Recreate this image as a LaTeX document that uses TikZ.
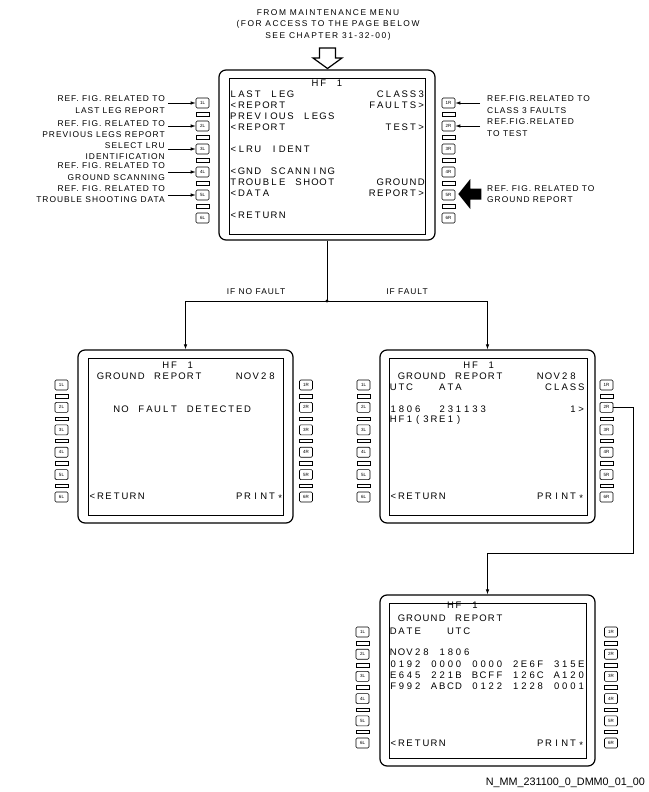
\documentclass[tikz,border=0pt]{standalone}
\usepackage{fontspec}
\setmainfont{Liberation Sans}
\newfontfamily\cdufont{Liberation Sans}
\newfontfamily\lblfont[LetterSpace=12]{Liberation Sans}
\newfontfamily\headfont[LetterSpace=18]{Liberation Sans}
\usetikzlibrary{arrows.meta,calc}

% one character per cell of the 24-column CDU grid
\newlength\cduw
\setlength\cduw{8.17pt}
\makeatletter
\def\cdu#1{\cdu@loop#1\cdu@stop}
\def\cdu@stop{\cdu@stop}
\def\cdu@loop{\futurelet\cdu@next\cdu@check}
\def\cdu@check{%
  \ifx\cdu@next\cdu@stop \let\cdu@do\@gobble
  \else\ifx\cdu@next\@sptoken \let\cdu@do\cdu@space
  \else \let\cdu@do\cdu@char\fi\fi
  \cdu@do}
\def\cdu@char#1{\hbox to\cduw{\hss#1\hss}\cdu@loop}
\expandafter\def\expandafter\cdu@space\space{\hbox to\cduw{}\cdu@loop}
\makeatother
\newcommand\cduast{\raisebox{-2pt}{*}}

% text on a display: origin x, column, row centre y, text
\newcommand\ct[4]{\node[cdutxt] at ({#1+#2*8.17},#3) {\cdu{#4}};}

% column of six line-select keys with separator bars
\newcommand\keycol[5]{%
  \foreach \k in {1,...,6}{\node[softkey] (#1\k#5) at (#2,{#3+(\k-1)*#4}) {\k#5};}
  \foreach \k in {1,...,5}{\node[keysep] (#1s\k#5) at (#2,{#3+(\k-0.5)*#4}) {};}
}

\begin{document}
\begin{tikzpicture}[x=1pt,y=-1pt,
  dispout/.style={draw, line width=1.2pt, rounded corners=7pt, inner sep=0pt},
  dispin/.style={draw, line width=0.9pt, inner sep=0pt},
  cdutxt/.style={font=\cdufont\fontsize{9.5}{11}\selectfont, inner sep=0pt, anchor=west,
                 text height=6.8pt, text depth=0pt},
  softkey/.style={draw, line width=0.6pt, minimum width=13pt, minimum height=10pt,
                  inner sep=0pt, rounded corners=1.2pt, font=\fontsize{4.5}{5}\selectfont},
  keysep/.style={draw, line width=0.6pt, minimum width=13pt, minimum height=3.5pt, inner sep=0pt},
  lbl/.style={font=\lblfont\fontsize{8.4}{11.5}\selectfont, inner sep=0pt},
  conn/.style={line width=0.7pt},
  ptr/.style={line width=0.7pt, -{Latex[length=5pt,width=3.5pt]}}
]
\useasboundingbox (0,0) rectangle (648,792);

% heading and hollow arrow
\node[font=\headfont\fontsize{8.4}{11.5}\selectfont, inner sep=0pt, align=center] (head) at (328,24.5)
  {FROM MAINTENANCE MENU\\(FOR ACCESS TO THE PAGE BELOW\\SEE CHAPTER 31-32-00)};
\draw[line width=1.2pt, fill=white] (319.5,48) -- (335.5,48) -- (335.5,58) -- (342,58)
  -- (327.5,68.5) -- (313,58) -- (319.5,58) -- cycle;

% ---------- HF 1 main page ----------
\node[dispout, minimum width=216pt, minimum height=170pt] (top) at (327,155) {};
\node[dispin, minimum width=196pt, minimum height=156pt] (topin) at (327,156) {};
\keycol{t}{202.5}{103}{23}{L}
\keycol{t}{448.5}{103}{23}{R}
\ct{229}{10}{83}{HF 1}
\ct{229}{0}{94}{LAST LEG}
\ct{229}{18}{94}{CLASS3}
\ct{229}{0}{105}{<REPORT}
\ct{229}{17}{105}{FAULTS>}
\ct{229}{0}{116}{PREVIOUS LEGS}
\ct{229}{0}{127}{<REPORT}
\ct{229}{19}{127}{TEST>}
\ct{229}{0}{149}{<LRU IDENT}
\ct{229}{0}{171.5}{<GND SCANNING}
\ct{229}{0}{182.5}{TROUBLE SHOOT}
\ct{229}{18}{182.5}{GROUND}
\ct{229}{0}{193}{<DATA}
\ct{229}{17}{193}{REPORT>}
\ct{229}{0}{215}{<RETURN}

% key callouts, left side
\node[lbl, align=right, anchor=east] (l1) at (165,104.5) {REF. FIG. RELATED TO\\LAST LEG REPORT};
\node[lbl, align=right, anchor=east] (l2) at (165,129) {REF. FIG. RELATED TO\\PREVIOUS LEGS REPORT};
\node[lbl, align=right, anchor=east] (l3) at (165,151) {SELECT LRU\\IDENTIFICATION};
\node[lbl, align=right, anchor=east] (l4) at (165,171.5) {REF. FIG. RELATED TO\\GROUND SCANNING};
\node[lbl, align=right, anchor=east] (l5) at (165,194) {REF. FIG. RELATED TO\\TROUBLE SHOOTING DATA};
\foreach \i in {1,...,5}{\draw[ptr] ($(l\i.east |- t\i L.west)+(3,0)$) -- (t\i L.west);}

% key callouts, right side
\node[lbl, align=left, anchor=west] (r1) at (487,104.5) {REF.FIG.RELATED TO\\CLASS 3 FAULTS};
\node[lbl, align=left, anchor=west] (r2) at (487,127.5) {REF.FIG.RELATED\\TO TEST};
\node[lbl, align=left, anchor=west] (r5) at (487,194) {REF. FIG. RELATED TO\\GROUND REPORT};
\draw[ptr] ($(r1.west |- t1R.east)+(-7,0)$) -- (t1R.east);
\draw[ptr] ($(r2.west |- t2R.east)+(-7,0)$) -- (t2R.east);
\fill[shift={(t5R.east)}] (3,-1) -- (15,-16) -- (15,-6.5) -- (26,-6.5) -- (26,4.5)
  -- (15,4.5) -- (15,14) -- cycle;

% branch to the ground report pages
\coordinate (split) at (327,301);
\node[dispout, minimum width=215pt, minimum height=173pt] (ml) at (185.5,436.5) {};
\node[dispin, minimum width=195pt, minimum height=157pt] (mlin) at (185.5,436.5) {};
\node[dispout, minimum width=215pt, minimum height=173pt] (mr) at (487.5,436.5) {};
\node[dispin, minimum width=198pt, minimum height=157pt] (mrin) at (488,436.5) {};
\draw[conn] (top.south) -- (split);
\draw[ptr] (split) -| (ml.north);
\draw[ptr] (split) -| (mr.north);
\fill (split) circle (1.6pt);
\node[lbl] (nofault) at (256,292) {IF NO FAULT};
\node[lbl] (fault) at (407,292) {IF FAULT};

% ---------- no fault page ----------
\keycol{a}{61.5}{385}{22.4}{L}
\keycol{a}{306}{385}{22.4}{R}
\ct{88}{9}{365}{HF 1}
\ct{88}{1}{375.9}{GROUND REPORT}
\ct{88}{18}{375.9}{NOV28}
\ct{88}{3}{408.6}{NO FAULT DETECTED}
\ct{88}{0}{495.8}{<RETURN}
\ct{88}{18}{495.8}{PRINT\cduast}

% ---------- fault page ----------
\keycol{b}{363.5}{385}{22.4}{L}
\keycol{b}{606.5}{385}{22.4}{R}
\ct{389}{9}{365}{HF 1}
\ct{389}{1}{375.9}{GROUND REPORT}
\ct{389}{18}{375.9}{NOV28}
\ct{389}{0}{386.8}{UTC}
\ct{389}{6}{386.8}{ATA}
\ct{389}{19}{386.8}{CLASS}
\ct{389}{0}{408.6}{1806}
\ct{389}{6}{408.6}{231133}
\ct{389}{22}{408.6}{1>}
\ct{389}{0}{419.5}{HF1(3RE1)}
\ct{389}{0}{495.8}{<RETURN}
\ct{389}{18}{495.8}{PRINT\cduast}

% ---------- class 1 fault detail page ----------
\node[dispout, minimum width=215pt, minimum height=171pt] (bot) at (487.5,680.5) {};
\node[dispin, minimum width=197pt, minimum height=155pt] (botin) at (487.5,680.5) {};
\coordinate (bend) at (633,553);
\draw[ptr] (b2R.east) -| (bend) -| (bot.north);
\keycol{c}{362.5}{632}{22.2}{L}
\keycol{c}{611}{632}{22.2}{R}
\ct{389}{7}{605}{HF 1}
\ct{389}{1}{618}{GROUND REPORT}
\ct{389}{0}{631}{DATE}
\ct{389}{7}{631}{UTC}
\ct{389}{0}{652.5}{NOV28 1806}
\ct{389}{0}{664.5}{0192 0000 0000 2E6F 315E}
\ct{389}{0}{675.5}{E645 221B BCFF 126C A120}
\ct{389}{0}{686.5}{F992 ABCD 0122 1228 0001}
\ct{389}{0}{743}{<RETURN}
\ct{389}{18}{743}{PRINT\cduast}

\node[font=\fontsize{10.8}{12}\selectfont, inner sep=0pt, anchor=east] (code) at (645,783) {N\_MM\_231100\_0\_DMM0\_01\_00};
\end{tikzpicture}
\end{document}
